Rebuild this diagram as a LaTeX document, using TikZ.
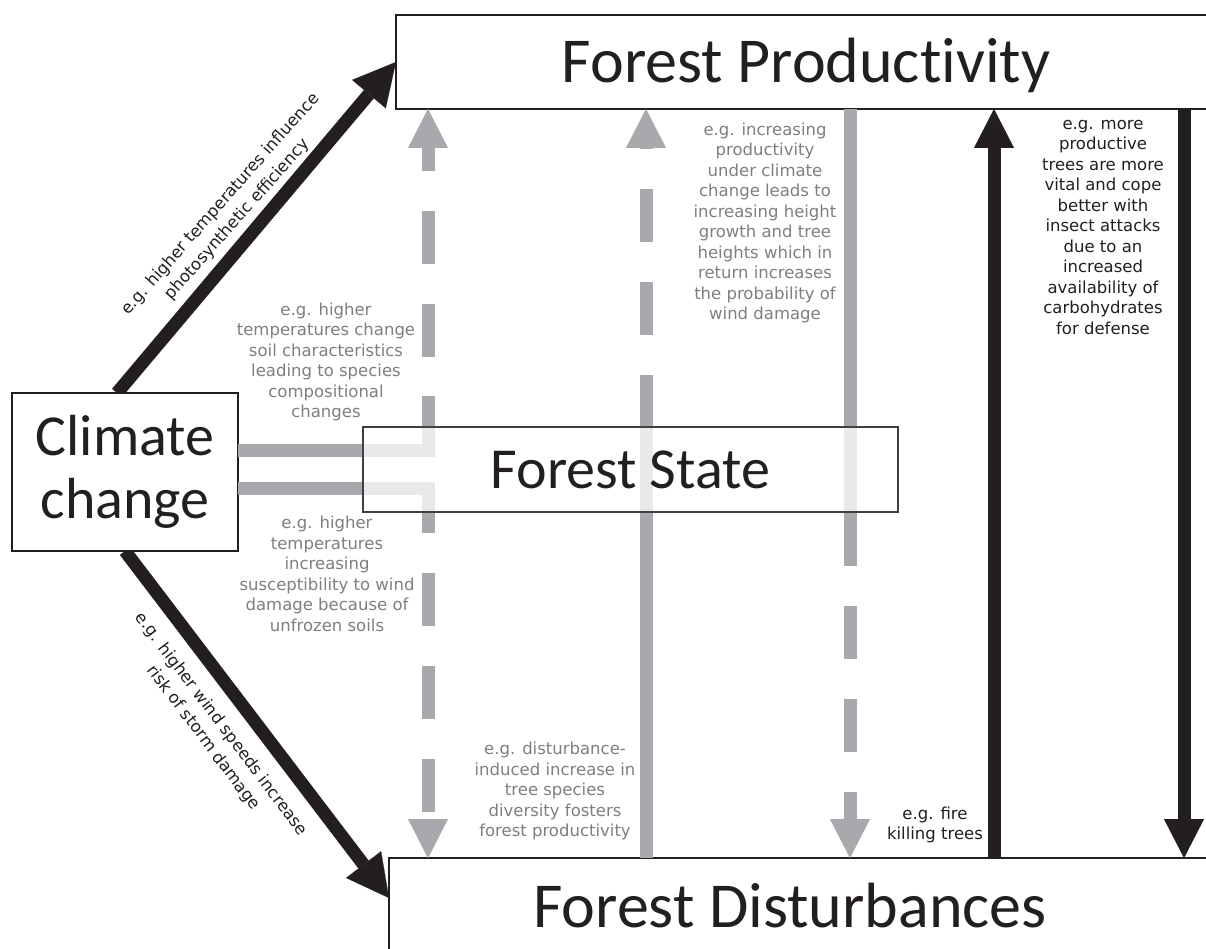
\documentclass[tikz,border=0pt]{standalone}
\usepackage{fontspec}
\usetikzlibrary{arrows.meta,calc}
\newfontfamily\calfont[Ligatures={NoCommon,NoContextual},Contextuals=NoAlternate]{Carlito}
\newfontfamily\vfont{DejaVu Sans}
\definecolor{lgray}{RGB}{167,169,172}
\definecolor{tgray}{RGB}{125,127,130}
\definecolor{dblack}{RGB}{35,31,32}
\definecolor{sborder}{RGB}{64,64,64}
\tikzset{
  gtip/.tip={Triangle[width=40pt,length=39pt,line width=0.1pt]},
  btip/.tip={Triangle[width=44pt,length=42pt,line width=0.1pt]},
  bigbox/.style={draw=dblack,line width=2pt,fill=white,outer sep=0pt,inner sep=0pt},
  bigtext/.style={font=\calfont\fontsize{64}{70}\selectfont,text=dblack,anchor=base,inner sep=0pt},
  grayline/.style={draw=lgray,line width=13pt},
  blackline/.style={draw=dblack,line width=13pt},
  glabel/.style={font=\vfont\fontsize{16.5}{20.5}\selectfont,text=tgray,align=center,inner sep=0pt},
  blabel/.style={glabel,text=dblack},
  rlabel/.style={font=\vfont\fontsize{16.5}{22.5}\selectfont,text=dblack,align=center,inner sep=0pt},
}
\begin{document}
\begin{tikzpicture}[x=1pt,y=-1pt]
\useasboundingbox (0,0) rectangle (1206,949);
\clip (0,0) rectangle (1206,949);
\fill[white] (0,0) rectangle (1206,949);

% main boxes
\node[bigbox,minimum width=818pt,minimum height=94pt] (fp) at (805,62) {};
\node[bigbox,minimum width=825pt,minimum height=122pt] (fd) at (801.5,919) {};
\node[bigtext] (fpt) at (806,83) {Forest Produc\kern0ptt\kern0pti\kern0ptvi\kern0ptt\kern0pty};
\node[bigtext] (fdt) at (790,927) {Forest Disturbances};

% diagonal arrows from climate change
\coordinate (ccn) at (117,393);
\coordinate (ccs) at (125,551);
\draw[blackline,-btip] (ccn) -- (fp.west);
\draw[blackline,-btip] (ccs) -- ($(fd.north west)+(0,40)$);

% climate change box
\node[draw=dblack,line width=1.5pt,fill=white,minimum width=226pt,minimum height=158pt,
      align=center,font=\calfont\fontsize{58}{63}\selectfont,text=dblack,
      inner sep=0pt,outer sep=0pt] (cc) at (125,472) {Climate\\change};

% gray connectors
\draw[grayline,line join=miter] (cc.east |- 0,450) -- (428,450) -- (428,396);
\draw[grayline,dash pattern=on 53pt off 40pt,-gtip] (428,450) -- (fp.south -| 428,0);
\draw[grayline,line join=miter] (cc.east |- 0,488) -- (428,488) -- (428,533);
\draw[grayline,dash pattern=on 53pt off 40pt,dash phase=8pt,-gtip] (428,488) -- (fd.north -| 428,0);
\draw[grayline,dash pattern=on 483pt off 40pt on 53pt off 40pt on 53pt off 40pt,-gtip]
  (fd.north -| 646,0) -- (fp.south -| 646,0);
\draw[grayline,dash pattern=on 457pt off 40pt on 53pt off 40pt on 53pt off 40pt on 53pt off 40pt,-gtip]
  (fp.south -| 850,0) -- (fd.north -| 850,0);

% forest state box (semi-transparent)
\node[draw=sborder,line width=1.5pt,fill=white,fill opacity=0.75,text opacity=1,
      minimum width=535pt,minimum height=85pt,font=\calfont\fontsize{58}{63}\selectfont,
      text=dblack,inner sep=0pt,outer sep=0pt] (fs) at (630.5,469.5) {Forest State};

% black vertical arrows
\draw[blackline,-gtip] (fd.north -| 994,0) -- (fp.south -| 994,0);
\draw[blackline,-gtip] (fp.south -| 1184,0) -- (fd.north -| 1184,0);

% labels
\node[glabel] (l1) at (326,362) {e.g. higher\\temperatures change\\soil characteristics\\leading to species\\compositional\\changes};
\node[glabel] (l2) at (327,574) {e.g. higher\\temperatures\\increasing\\susceptibility to wind\\damage because of\\unfrozen soils};
\node[glabel] (l3) at (765,223) {e.g. increasing\\productivity\\under climate\\change leads to\\increasing height\\growth and tree\\heights which in\\return increases\\the probability of\\wind damage};
\node[glabel] (l4) at (555,791) {e.g. disturbance-\\induced increase in\\tree species\\diversity fosters\\forest productivity};
\node[blabel] (l5) at (1103,227) {e.g. more\\productive\\trees are more\\vital and cope\\better with\\insect attacks\\due to an\\increased\\availability of\\carbohydrates\\for defense};
\node[blabel] (l6) at (935,825) {e.g. fire\\killing trees};
\node[rlabel,rotate=48.5] (r1) at (229,212) {e.g. higher temperatures influence\\photosynthetic efficiency};
\node[rlabel,rotate=-53] (r2) at (212,731) {e.g. higher wind speeds increase\\risk of storm damage};
\end{tikzpicture}
\end{document}
